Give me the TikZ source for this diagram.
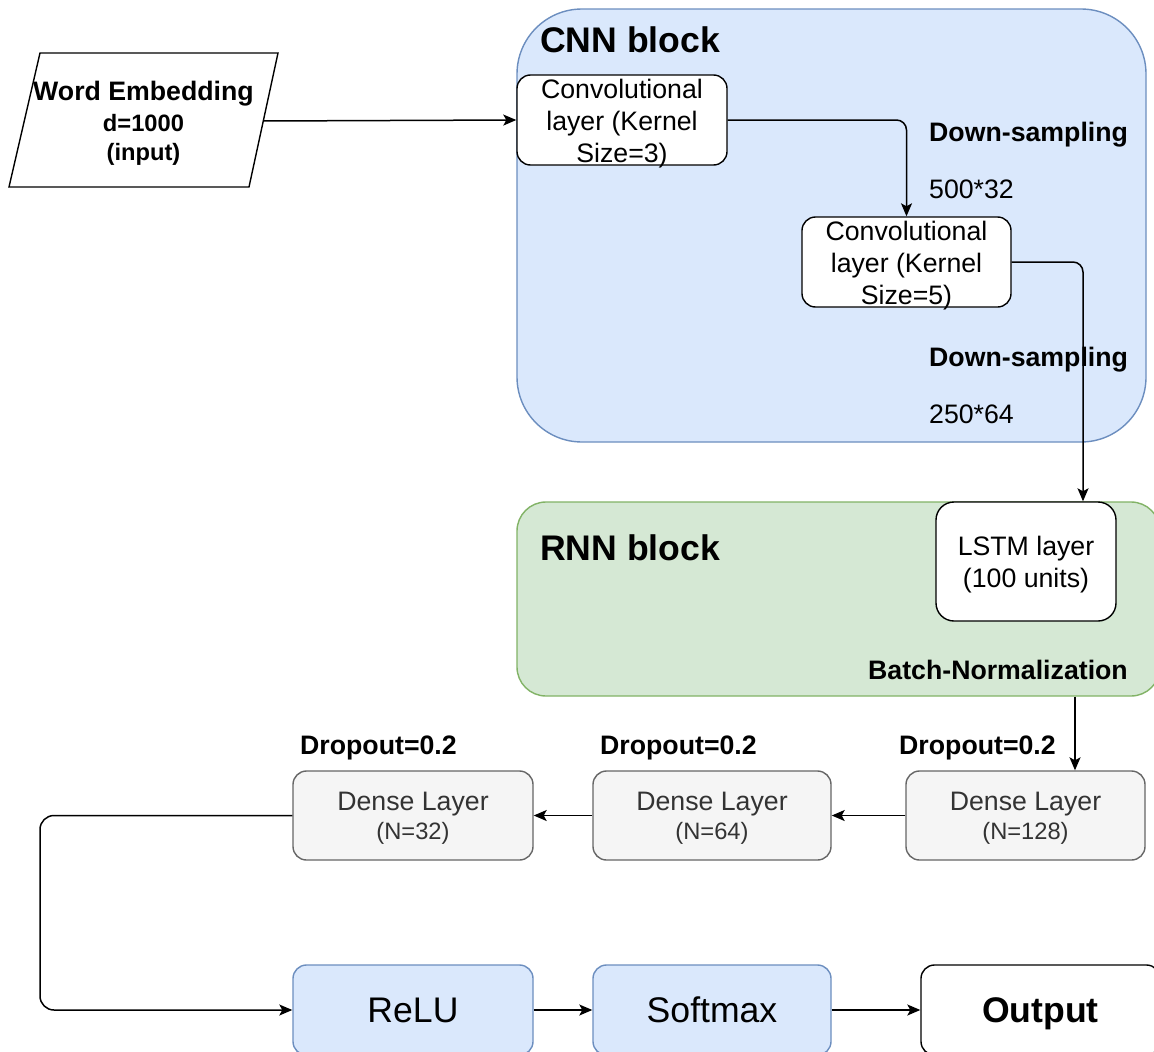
\documentclass[tikz,border=0pt]{standalone}
\usepackage{fontspec}
\setmainfont{Liberation Sans}
\usetikzlibrary{arrows.meta,positioning,calc}
\definecolor{cnnfill}{HTML}{DAE8FC}
\definecolor{cnnline}{HTML}{6C8EBF}
\definecolor{rnnfill}{HTML}{D5E8D4}
\definecolor{rnnline}{HTML}{82B366}
\definecolor{densefill}{HTML}{F5F5F5}
\definecolor{denseline}{HTML}{666666}
\definecolor{densetext}{HTML}{333333}
\newcommand{\fmain}{\fontsize{26.7}{32}\selectfont}
\newcommand{\fbig}{\fontsize{35.6}{42}\selectfont}
\newcommand{\fsmall}{\fontsize{23.7}{29}\selectfont}
\newcommand{\fdense}{\fontsize{26.7}{29}\selectfont}
\tikzset{
  box/.style={draw, line width=1.4pt, rounded corners=13.5pt, inner sep=0pt},
  convbox/.style={box, fill=white, minimum height=90pt},
  densebox/.style={box, draw=denseline, fill=densefill, minimum width=239pt, minimum height=89pt},
  actbox/.style={box, draw=cnnline, fill=cnnfill, minimum width=239pt, minimum height=90pt, font=\fbig},
  txt/.style={inner sep=0pt, align=center},
  densetxt/.style={txt, text=densetext, font=\fdense},
  lbl/.style={inner sep=0pt, anchor=west},
  conn/.style={line width=1.5pt, -{Stealth[length=13pt,width=11pt,inset=3pt]}, rounded corners=10pt},
}
\begin{document}
\begin{tikzpicture}[x=1pt,y=-1pt]
\useasboundingbox (0,0) rectangle (1154,1052);
\clip (0,0) rectangle (1154,1052);
\fill[white] (0,0) rectangle (1154,1052);

% input parallelogram
\draw[line width=1.4pt] (40,53) -- (278,53) -- (249,187) -- (9,187) -- cycle;
\node[txt, font=\fmain\bfseries] (emb) at (143.5,123.5)
  {Word Embedding\\[-1pt]{\fsmall d=1000}\\[-3pt]{\fsmall (input)}};
\coordinate (embr) at (263.5,121);

% CNN block
\node[box, draw=cnnline, fill=cnnfill, rounded corners=65pt, minimum width=629pt, minimum height=433pt] (cnn) at (831.5,225.5) {};
\node[lbl, font=\fbig\bfseries] (cnnt) at (540,40) {CNN block};
\node[convbox, minimum width=210pt] (conv1) at (622,120) {};
\node[txt, font=\fmain] (conv1t) at ([yshift=-3.5pt]conv1.center) {Convolutional\\layer (Kernel\\Size=3)};
\node[convbox, minimum width=209pt] (conv2) at (906.5,262) {};
\node[txt, font=\fmain] (conv2t) at ([yshift=-3.5pt]conv2.center) {Convolutional\\layer (Kernel\\Size=5)};
\node[lbl, font=\fmain\bfseries] (ds1) at (929,134.5) {Down-sampling};
\node[lbl, font=\fmain] (sz1) at (929,189) {500*32};
\node[lbl, font=\fmain\bfseries] (ds2) at (929,359.5) {Down-sampling};
\node[lbl, font=\fmain] (sz2) at (929,414) {250*64};

% RNN block
\node[box, draw=rnnline, fill=rnnfill, rounded corners=29pt, minimum width=643pt, minimum height=194pt] (rnn) at (838.5,599) {};
\node[lbl, font=\fbig\bfseries] (rnnt) at (540,548) {RNN block};
\node[box, fill=white, rounded corners=18pt, minimum width=180pt, minimum height=119pt] (lstm) at (1026,561.5) {};
\node[txt, font=\fmain] (lstmt) at ([yshift=-3pt]lstm.center) {LSTM layer\\(100 units)};
\node[inner sep=0pt, anchor=east, font=\fmain\bfseries] (bn) at (1128,670) {Batch-Normalization};

% Dense layers
\node[lbl, font=\fmain\bfseries] (do1) at (300,747.5) {Dropout=0.2};
\node[lbl, font=\fmain\bfseries] (do2) at (600,747.5) {Dropout=0.2};
\node[lbl, font=\fmain\bfseries] (do3) at (899,747.5) {Dropout=0.2};
\node[densebox, minimum width=240pt] (d32) at (413,815.5) {};
\node[densetxt] (d32t) at ([yshift=-2.5pt]d32.center) {Dense Layer\\{\fsmall (N=32)}};
\node[densebox, minimum width=238pt] (d64) at (712,815.5) {};
\node[densetxt] (d64t) at ([yshift=-2.5pt]d64.center) {Dense Layer\\{\fsmall (N=64)}};
\node[densebox] (d128) at (1025.5,815.5) {};
\node[densetxt] (d128t) at ([yshift=-2.5pt]d128.center) {Dense Layer\\{\fsmall (N=128)}};

% activation and output
\node[actbox, minimum width=240pt] (relu) at (413,1010) {ReLU};
\node[actbox, minimum width=238pt] (soft) at (712,1010) {Softmax};
\node[box, fill=white, minimum width=239pt, minimum height=90pt] (out) at (1040.5,1010) {};
\node[txt, font=\fbig\bfseries] (outt) at ([yshift=-4pt]out.center) {Output};

% connectors
\draw[conn] (embr) -- (conv1.west);
\draw[conn] (conv1.east) -| (conv2.north);
\draw[conn] (conv2.east) -| ([xshift=57pt]lstm.north);
\draw[conn] ([xshift=49.5pt]d128.north |- rnn.south) -- ([xshift=49.5pt]d128.north);
\draw[conn] (d128.west) -- (d64.east);
\draw[conn] (d64.west) -- (d32.east);
\coordinate (loop) at (40,912);
\draw[conn, rounded corners=14pt] (d32.west) -| (loop) |- (relu.west);
\draw[conn] (relu.east) -- (soft.west);
\draw[conn] (soft.east) -- (out.west);
\end{tikzpicture}
\end{document}
